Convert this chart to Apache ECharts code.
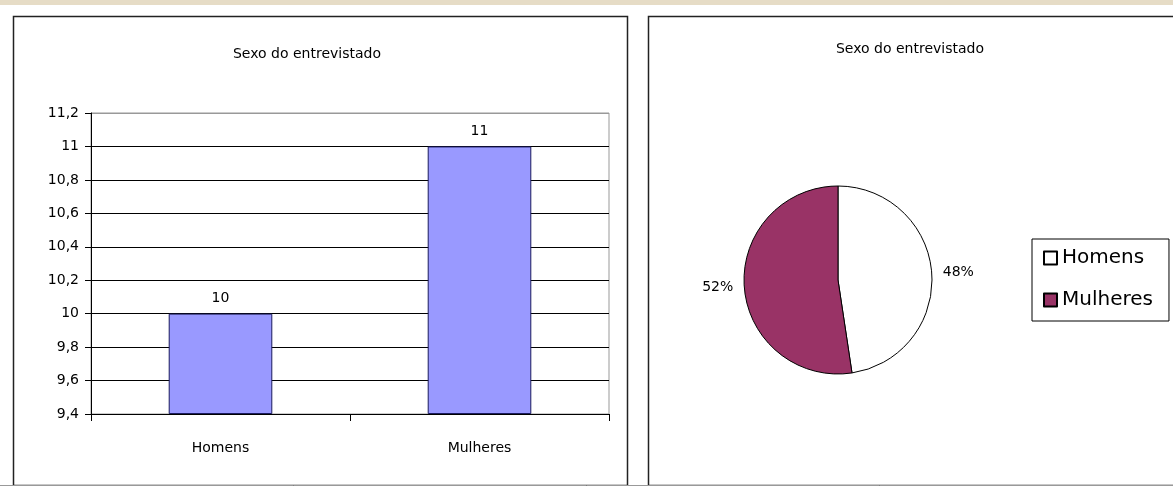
<!DOCTYPE html>
<html>
<head>
<meta charset="utf-8">
<script src="https://cdn.jsdelivr.net/npm/echarts@6/dist/echarts.min.js"></script>
<style>
  html, body { margin: 0; padding: 0; background: #ffffff; }
  #chart { width: 1173px; height: 486px; }
</style>
</head>
<body>
<div id="chart"></div>
<script>
// dados
var categorias = ['Homens', 'Mulheres'];
var contagens = [10, 11];
var eixoY = { min: 9.4, max: 11.2, step: 0.2 };
var titulo = 'Sexo do entrevistado';
var coresPizza = ['#ffffff', '#993366'];

var fonte = '"DejaVu Sans", "Liberation Sans", Arial, sans-serif';

function virgula(v) {
    return String(Number(v.toFixed(1))).replace('.', ',');
}

// linhas de grade: a ultima (topo) e cinza
var coresGrade = [];
for (var i = 0; i < 9; i++) coresGrade.push('#000');
coresGrade.push('#999');

var option = {
    animation: false,
    backgroundColor: '#ffffff',
    textStyle: { fontFamily: fonte, color: '#000' },
    graphic: [
        { type: 'rect', shape: { x: 0, y: 0, width: 1173, height: 5 }, style: { fill: '#e6dcc6' } },
        { type: 'rect', shape: { x: 13.5, y: 16.5, width: 614, height: 469 }, style: { fill: 'none', stroke: '#222', lineWidth: 1.5 } },
        { type: 'rect', shape: { x: 648.5, y: 16.5, width: 540, height: 469 }, style: { fill: 'none', stroke: '#222', lineWidth: 1.5 } },
        { type: 'line', shape: { x1: 0, y1: 485.5, x2: 1173, y2: 485.5 }, style: { stroke: '#999', lineWidth: 1 } }
    ],
    title: [
        { text: titulo, left: 302, top: 42, textAlign: 'center',
          textStyle: { fontFamily: fonte, fontSize: 14, fontWeight: 'normal', color: '#000' } },
        { text: titulo, left: 905, top: 37, textAlign: 'center',
          textStyle: { fontFamily: fonte, fontSize: 14, fontWeight: 'normal', color: '#000' } }
    ],
    grid: { left: 91, top: 113, width: 518, height: 301, show: true, borderColor: '#999', borderWidth: 1 },
    xAxis: {
        type: 'category',
        data: categorias,
        axisLine: { lineStyle: { color: '#000' } },
        axisTick: { show: true, length: 7, lineStyle: { color: '#000' } },
        axisLabel: { color: '#000', fontSize: 14, margin: 27 }
    },
    yAxis: {
        type: 'value',
        min: eixoY.min,
        max: eixoY.max,
        interval: eixoY.step,
        startValue: eixoY.min,
        axisLine: { show: true, lineStyle: { color: '#000' } },
        axisTick: { show: true, length: 6, lineStyle: { color: '#000' } },
        axisLabel: { color: '#000', fontSize: 14, margin: 12, formatter: virgula },
        splitLine: { lineStyle: { color: coresGrade, width: 1 } }
    },
    legend: {
        orient: 'vertical',
        left: 1032,
        top: 239,
        padding: [9, 16, 11, 11],
        itemGap: 22,
        itemWidth: 13,
        itemHeight: 13,
        icon: 'rect',
        borderColor: '#000',
        borderWidth: 1,
        textStyle: { fontFamily: fonte, fontSize: 20, color: '#000' },
        data: categorias
    },
    series: [
        {
            type: 'bar',
            data: contagens,
            barWidth: '40%',
            itemStyle: { color: '#9999ff', borderColor: '#1a1a5e', borderWidth: 1 },
            label: { show: true, position: 'top', distance: 8, color: '#000', fontSize: 14, fontFamily: fonte }
        },
        {
            type: 'pie',
            center: [838, 280],
            radius: 94,
            startAngle: 90,
            clockwise: true,
            data: categorias.map(function (c, i) {
                return {
                    name: c,
                    value: contagens[i],
                    itemStyle: { color: coresPizza[i], borderColor: '#000', borderWidth: 1 }
                };
            }),
            label: {
                show: true,
                position: 'outside',
                formatter: function (p) { return Math.round(p.percent) + '%'; },
                color: '#000',
                fontSize: 14,
                fontFamily: fonte
            },
            labelLine: { show: false, length: 6, length2: 0 },
            emphasis: { disabled: true }
        }
    ]
};

var grafico = echarts.init(document.getElementById('chart'));
grafico.setOption(option);
</script>
</body>
</html>
